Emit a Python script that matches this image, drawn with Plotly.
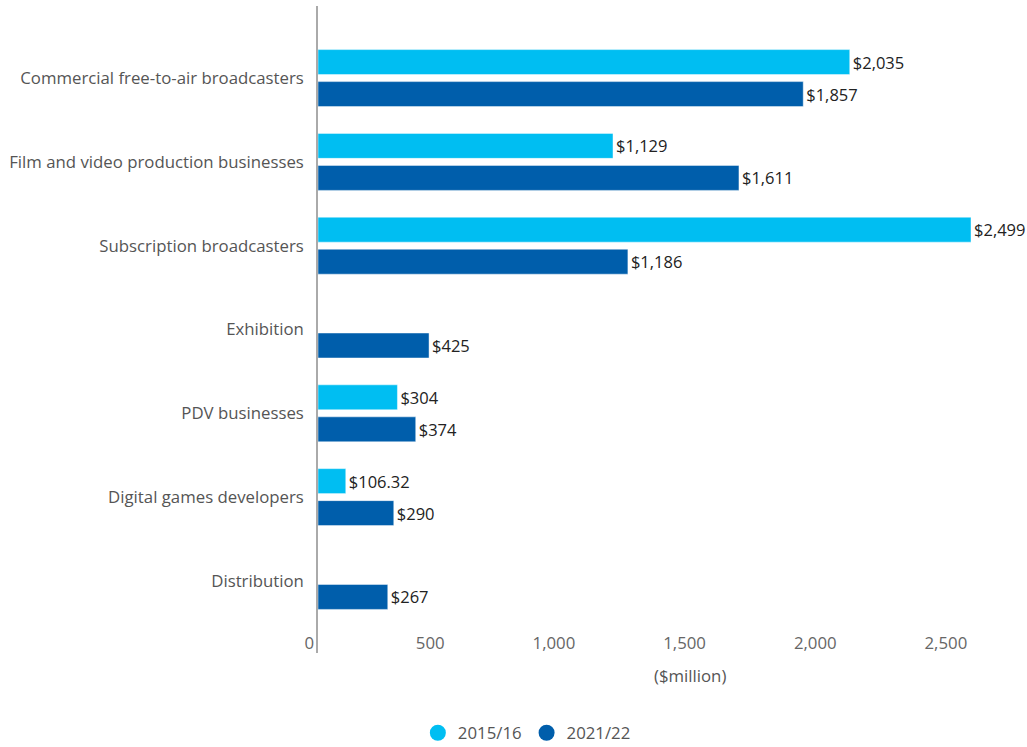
import plotly.graph_objects as go

categories = [
    "Commercial free-to-air broadcasters",
    "Film and video production businesses",
    "Subscription broadcasters",
    "Exhibition",
    "PDV businesses",
    "Digital games developers",
    "Distribution",
]
series_names = ["2015/16", "2021/22"]
values_2015 = [2035, 1129, 2499, None, 304, 106.32, None]
values_2021 = [1857, 1611, 1186, 425, 374, 290, 267]
x_tick_values = [0, 500, 1000, 1500, 2000, 2500]
x_tick_labels = ["0", "500", "1,000", "1,500", "2,000", "2,500"]
x_axis_title = "($million)"

colors = ["#00BEF2", "#005EAB"]
FONT = "Open Sans"
FS = 16.8

W, H = 1027, 747
ML, MR, MT, MB = 318, 27, 6, 94
PW, PH = W - ML - MR, H - MT - MB


def fmt(v):
    if v is None:
        return ""
    if float(v).is_integer():
        return "${:,}".format(int(v))
    return "${:,.2f}".format(v)


fig = go.Figure()
for name, vals, col in zip(series_names, [values_2015, values_2021], colors):
    fig.add_trace(go.Bar(
        y=categories, x=vals, orientation="h", name=name,
        marker=dict(color=col, line=dict(color="rgba(255,255,255,0.45)", width=1)),
        text=[fmt(v) for v in vals], textposition="outside",
        textfont=dict(family=FONT, size=16.5, color="#222222"),
        cliponaxis=False, showlegend=False,
    ))
    # legend entries with circular markers
    fig.add_trace(go.Scatter(
        x=[None], y=[None], mode="markers", name=name,
        marker=dict(color=col, size=22, symbol="circle"),
        showlegend=True,
    ))

fig.update_layout(
    width=W, height=H,
    margin=dict(l=ML, r=MR, t=MT, b=MB),
    paper_bgcolor="white", plot_bgcolor="white",
    barmode="group", bargap=0.236, bargroupgap=0.22,
    font=dict(family=FONT, size=FS, color="#555555"),
    legend=dict(
        orientation="h", xref="container", yref="container",
        x=0.513, y=0.019, xanchor="center", yanchor="middle",
        font=dict(family=FONT, size=FS, color="#555555"),
        itemsizing="trace",
    ),
    xaxis=dict(
        range=[0, 2610], showgrid=False, zeroline=False, showline=False,
        tickvals=x_tick_values, ticktext=x_tick_labels,
        ticks="", ticklabelposition="outside left", ticklabelshift=-4,
        ticklabelstandoff=-22,
        tickfont=dict(family=FONT, size=FS, color="#666666"),
    ),
    yaxis=dict(
        type="category", categoryorder="array", categoryarray=categories,
        range=[6.86, -0.86], showgrid=False, zeroline=False,
        showline=True, linecolor="#AAAAAA", linewidth=1.5,
        ticks="", ticklabelstandoff=9,
        tickfont=dict(family=FONT, size=FS, color="#555555"),
    ),
    annotations=[dict(
        text=x_axis_title, xref="paper", yref="paper",
        x=(690 - ML) / PW, y=(H - MB - 675) / PH,
        xanchor="center", yanchor="middle", showarrow=False,
        font=dict(family=FONT, size=FS, color="#555555"),
    )],
)

fig.write_html("out.html")
